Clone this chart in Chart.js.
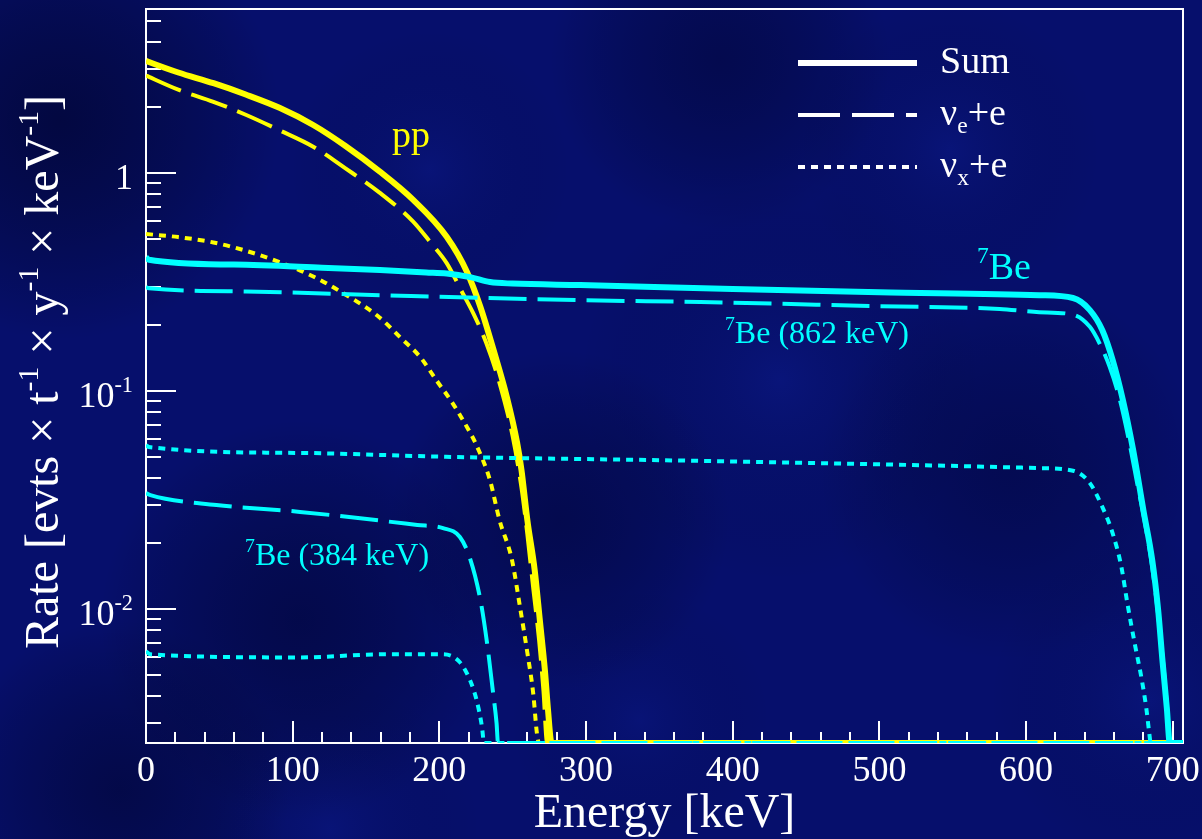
<!DOCTYPE html>
<html>
<head>
<title>pp and 7Be neutrino rates</title>
<style>
  body { margin: 0; background: #060f6c; }
  #wrap { width: 1202px; height: 839px; }
</style>
<script src="https://cdn.jsdelivr.net/npm/chart.js"></script>
</head>
<body>
<div id="wrap"><canvas id="chart" width="1202" height="839"></canvas></div>
<script>
// axis range (keV, rate) and the floor where empty bins are drawn
const X_MAX = 707;
const Y_MIN = 0.00243;
const Y_MAX = 5.65;
const FLOOR = Y_MIN;

// pp
const ppSumE = [0, 2, 22, 46, 68, 91, 114, 136, 159, 182, 205, 219, 228, 237, 246, 253, 256, 260, 265, 268.5, 272, 274, 276.5, 707];
const ppSumR = [3.27, 3.23, 2.89, 2.58, 2.29, 1.99, 1.66, 1.33, 1.02, 0.755, 0.51, 0.35, 0.243, 0.154, 0.094, 0.058, 0.0434, 0.0256, 0.0151, 0.0089, 0.0052, 0.0035, FLOOR, FLOOR];
const ppNueE = [0, 2, 22, 46, 68, 91, 114, 136, 159, 182, 194, 205, 216, 223, 232, 241, 250, 256, 260, 264, 268, 271, 273.5, 707];
const ppNueR = [2.8, 2.76, 2.41, 2.12, 1.85, 1.57, 1.32, 1.05, 0.815, 0.60, 0.48, 0.386, 0.28, 0.228, 0.166, 0.109, 0.062, 0.036, 0.022, 0.0125, 0.0072, 0.0042, FLOOR, FLOOR];
const ppNuxE = [0, 22, 46, 68, 91, 114, 131, 159, 173, 187, 198, 209, 219, 225, 234.5, 241, 249.5, 255, 260, 264, 266.5, 268, 707];
const ppNuxR = [0.525, 0.508, 0.48, 0.44, 0.39, 0.335, 0.29, 0.218, 0.177, 0.143, 0.112, 0.088, 0.068, 0.057, 0.039, 0.0256, 0.0168, 0.0102, 0.0063, 0.0041, 0.0027, FLOOR, FLOOR];

// 7Be, both lines summed
const beSumE = [0, 2, 60, 120, 159.5, 191, 205, 221, 234.5, 250, 296, 400, 500, 609, 632, 643.5, 652, 659, 666, 673, 680, 686, 690, 693, 696, 698, 707];
const beSumR = [0.41, 0.40, 0.38, 0.368, 0.359, 0.35, 0.346, 0.333, 0.316, 0.311, 0.306, 0.294, 0.284, 0.275, 0.267, 0.235, 0.19, 0.139, 0.091, 0.0537, 0.0284, 0.0168, 0.010, 0.0058, 0.0035, FLOOR, FLOOR];
// 7Be 862 keV line
const be862NueE = [0, 2, 68, 159.5, 296, 378, 500, 582, 609, 632, 643.5, 650, 657, 664, 670, 676, 681, 686, 690, 694, 697, 698, 707];
const be862NueR = [0.30, 0.296, 0.286, 0.275, 0.261, 0.256, 0.245, 0.238, 0.23, 0.224, 0.197, 0.166, 0.129, 0.091, 0.060, 0.037, 0.025, 0.0155, 0.0095, 0.0052, 0.003, FLOOR, FLOOR];
const be862NuxE = [0, 2, 105, 200, 378, 609, 632, 643.5, 652, 659, 665, 669, 674, 679, 682, 684, 685, 707];
const be862NuxR = [0.0565, 0.0553, 0.052, 0.050, 0.0478, 0.0443, 0.0431, 0.0378, 0.0294, 0.0223, 0.0156, 0.0107, 0.0070, 0.0047, 0.0035, 0.0027, FLOOR, FLOOR];
// 7Be 384 keV line
const be384NueE = [0, 3, 48, 105, 185, 202.5, 214, 221, 228, 232.5, 236.5, 239, 240, 707];
const be384NueR = [0.034, 0.0333, 0.030, 0.0279, 0.0243, 0.0235, 0.0214, 0.0170, 0.0110, 0.0070, 0.0042, 0.0030, FLOOR, FLOOR];
const be384NuxE = [0, 3, 105, 161.5, 202.5, 214, 221, 225.5, 229, 230.5, 707];
const be384NuxR = [0.0064, 0.0062, 0.0060, 0.0062, 0.0062, 0.0057, 0.0047, 0.0038, 0.0029, FLOOR, FLOOR];

// tick labels
const xTicks = [0, 100, 200, 300, 400, 500, 600, 700];
const yTicks = [0.01, 0.1, 1];
const yTickText = [['10', '-2'], ['10', '-1'], ['1', '']];

const YELLOW = '#ffff00';
const CYAN = '#00ffff';
const SERIF = '"Liberation Serif", "DejaVu Serif", serif';
const DASH = [38, 11];
const DOT = [7, 6];

function pts(E, R) { return E.map((e, i) => ({x: e, y: R[i]})); }

function line(E, R, color, kind) {
  return {
    data: pts(E, R),
    borderColor: color,
    borderWidth: kind === 'solid' ? 6 : 4,
    borderDash: kind === 'dash' ? DASH : kind === 'dot' ? DOT : [],
    borderCapStyle: 'butt',
    pointRadius: 0,
    fill: false,
    cubicInterpolationMode: 'monotone'
  };
}

// draw text pieces with super/subscripts, starting at x (left) on baseline y
function richWidth(ctx, parts, size) {
  let w = 0;
  parts.forEach(p => {
    ctx.font = (p.s ? size * 0.62 : size) + 'px ' + SERIF;
    w += ctx.measureText(p.t).width;
  });
  return w;
}
function drawRich(ctx, parts, x, y, size) {
  parts.forEach(p => {
    ctx.font = (p.s ? size * 0.62 : size) + 'px ' + SERIF;
    const dy = p.s === 'sup' ? -size * 0.42 : p.s === 'sub' ? size * 0.22 : 0;
    ctx.fillText(p.t, x, y + dy);
    x += ctx.measureText(p.t).width;
  });
}

const background = {
  id: 'background',
  beforeDraw(chart) {
    const ctx = chart.ctx, w = chart.width, h = chart.height;
    ctx.save();
    ctx.fillStyle = '#060f6c';
    ctx.fillRect(0, 0, w, h);
    const blobs = [
      [60, 120, 220, 'rgba(0,2,30,0.55)'], [300, 620, 200, 'rgba(0,2,35,0.45)'],
      [560, 520, 170, 'rgba(0,2,35,0.4)'], [120, 790, 170, 'rgba(0,2,30,0.45)'],
      [720, 60, 170, 'rgba(0,2,35,0.4)'], [1010, 470, 190, 'rgba(0,2,35,0.35)'],
      [780, 380, 200, 'rgba(20,40,170,0.22)'], [950, 150, 150, 'rgba(20,40,170,0.2)'],
      [430, 170, 140, 'rgba(20,40,170,0.18)'], [1150, 700, 160, 'rgba(20,40,170,0.2)'],
      [330, 830, 150, 'rgba(20,40,170,0.18)'], [640, 720, 130, 'rgba(20,40,170,0.16)']
    ];
    blobs.forEach(([bx, by, r, c]) => {
      const g = ctx.createRadialGradient(bx, by, 0, bx, by, r);
      g.addColorStop(0, c);
      g.addColorStop(1, 'rgba(0,0,0,0)');
      ctx.fillStyle = g;
      ctx.fillRect(bx - r, by - r, 2 * r, 2 * r);
    });
    ctx.restore();
  }
};

const frame = {
  id: 'frame',
  beforeDatasetsDraw(chart) {
    const {ctx, chartArea: a, scales: {x, y}} = chart;
    ctx.save();
    ctx.strokeStyle = '#ffffff';
    ctx.lineWidth = 2;
    ctx.strokeRect(a.left, a.top, a.right - a.left, a.bottom - a.top);
    ctx.beginPath();
    for (let e = 0; e <= X_MAX; e += 20) {
      const px = Math.round(x.getPixelForValue(e));
      const len = e % 100 === 0 ? 22 : 11;
      ctx.moveTo(px, a.bottom);
      ctx.lineTo(px, a.bottom - len);
    }
    for (let d = -3; d <= 0; d++) {
      for (let k = 1; k <= 9; k++) {
        const v = k * Math.pow(10, d);
        if (v < Y_MIN || v > Y_MAX) continue;
        const py = Math.round(y.getPixelForValue(v));
        const len = k === 1 ? 30 : 15;
        ctx.moveTo(a.left, py);
        ctx.lineTo(a.left + len, py);
      }
    }
    ctx.stroke();

    // tick labels
    ctx.fillStyle = '#ffffff';
    ctx.textBaseline = 'alphabetic';
    ctx.font = '36px ' + SERIF;
    ctx.textAlign = 'center';
    xTicks.forEach(t => ctx.fillText(String(t), x.getPixelForValue(t), a.bottom + 38));
    ctx.textAlign = 'left';
    yTicks.forEach((t, i) => {
      const parts = [{t: yTickText[i][0]}, {t: yTickText[i][1], s: 'sup'}];
      const w = richWidth(ctx, parts, 36);
      drawRich(ctx, parts, a.left - 13 - w, y.getPixelForValue(t) + 16, 36);
    });

    // axis titles
    ctx.font = '48px ' + SERIF;
    ctx.textAlign = 'center';
    ctx.fillText('Energy [keV]', (a.left + a.right) / 2, a.bottom + 84);
    ctx.textAlign = 'left';
    const yTitle = [
      {t: 'Rate [evts \u00d7 t'}, {t: '-1', s: 'sup'},
      {t: ' \u00d7 y'}, {t: '-1', s: 'sup'},
      {t: ' \u00d7 keV'}, {t: '-1', s: 'sup'}, {t: ']'}
    ];
    ctx.translate(58, (a.top + a.bottom) / 2 - 4);
    ctx.rotate(-Math.PI / 2);
    const tw = richWidth(ctx, yTitle, 48);
    drawRich(ctx, yTitle, -tw / 2, 0, 48);
    ctx.restore();
  }
};

// curve labels, placed in data coordinates
const curveLabels = [
  {E: 167.7, R: 1.316, size: 38, color: YELLOW, parts: [{t: 'pp'}]},
  {E: 566.5, R: 0.3266, size: 38, color: CYAN, parts: [{t: '7', s: 'sup'}, {t: 'Be'}]},
  {E: 394.7, R: 0.166, size: 32, color: CYAN, parts: [{t: '7', s: 'sup'}, {t: 'Be (862 keV)'}]},
  {E: 67.5, R: 0.0159, size: 32, color: CYAN, parts: [{t: '7', s: 'sup'}, {t: 'Be (384 keV)'}]}
];

const legendItems = [
  {kind: 'solid', parts: [{t: 'Sum'}]},
  {kind: 'dash', parts: [{t: '\u03bd'}, {t: 'e', s: 'sub'}, {t: '+e'}]},
  {kind: 'dot', parts: [{t: '\u03bd'}, {t: 'x', s: 'sub'}, {t: '+e'}]}
];

const annotations = {
  id: 'annotations',
  afterDatasetsDraw(chart) {
    const {ctx, scales: {x, y}} = chart;
    ctx.save();
    ctx.textBaseline = 'alphabetic';
    ctx.textAlign = 'left';
    curveLabels.forEach(l => {
      ctx.fillStyle = l.color;
      drawRich(ctx, l.parts, x.getPixelForValue(l.E), y.getPixelForValue(l.R), l.size);
    });
    // legend
    legendItems.forEach((it, i) => {
      const ly = 63 + i * 52;
      ctx.strokeStyle = '#ffffff';
      ctx.lineWidth = it.kind === 'solid' ? 6 : 4;
      ctx.lineCap = 'butt';
      ctx.setLineDash(it.kind === 'dash' ? [42, 12] : it.kind === 'dot' ? DOT : []);
      ctx.beginPath();
      ctx.moveTo(798, ly);
      ctx.lineTo(917, ly);
      ctx.stroke();
      ctx.setLineDash([]);
      ctx.fillStyle = '#ffffff';
      drawRich(ctx, it.parts, 940, ly + 10, 38);
    });
    ctx.restore();
  }
};

new Chart(document.getElementById('chart'), {
  type: 'line',
  data: {
    datasets: [
      line(beSumE, beSumR, CYAN, 'solid'),
      line(be862NueE, be862NueR, CYAN, 'dash'),
      line(be862NuxE, be862NuxR, CYAN, 'dot'),
      line(be384NueE, be384NueR, CYAN, 'dash'),
      line(be384NuxE, be384NuxR, CYAN, 'dot'),
      line(ppSumE, ppSumR, YELLOW, 'solid'),
      line(ppNueE, ppNueR, YELLOW, 'dash'),
      line(ppNuxE, ppNuxR, YELLOW, 'dot')
    ]
  },
  options: {
    responsive: false,
    animation: false,
    devicePixelRatio: 1,
    layout: {padding: {left: 146, right: 19, top: 9, bottom: 96}},
    scales: {
      x: {type: 'linear', min: 0, max: X_MAX, display: false},
      y: {type: 'logarithmic', min: Y_MIN, max: Y_MAX, display: false}
    },
    plugins: {legend: {display: false}, tooltip: {enabled: false}}
  },
  plugins: [background, frame, annotations]
});
</script>
</body>
</html>
